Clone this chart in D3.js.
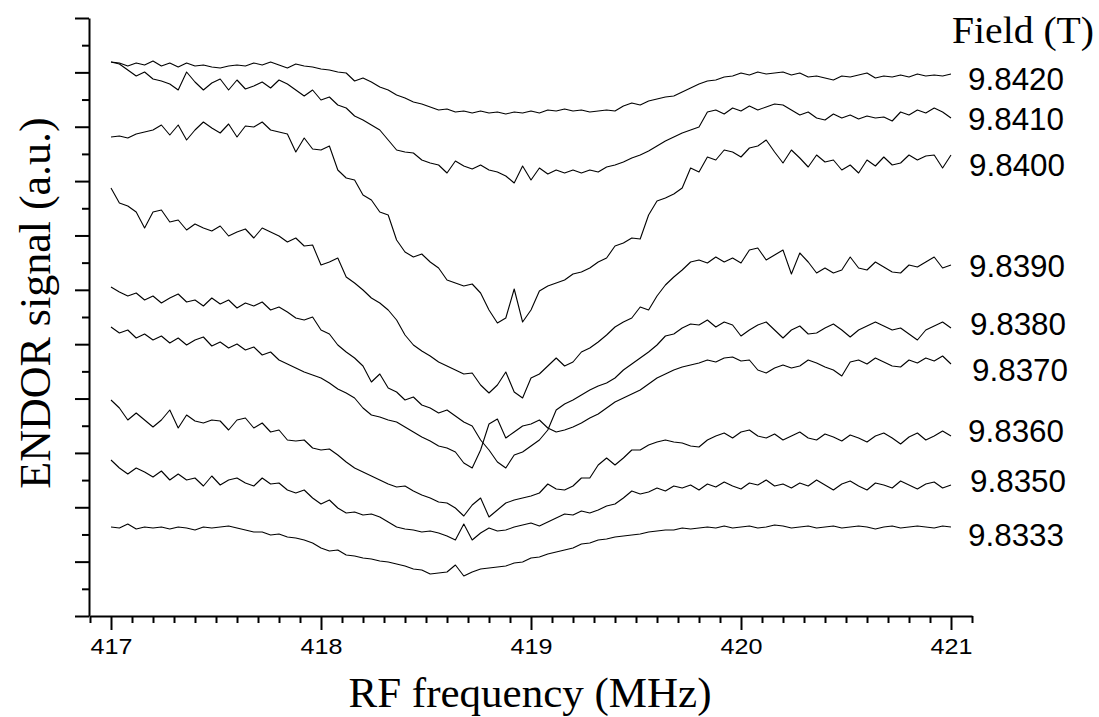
<!DOCTYPE html>
<html><head><meta charset="utf-8">
<script src="https://cdn.jsdelivr.net/npm/d3@7"></script>
<style>body{margin:0;background:#fff}svg{display:block}</style>
</head><body><svg id="c" width="1099" height="717"></svg>
<script>
// ---------- DATA ----------
const fields = ["9.8420","9.8410","9.8400","9.8390","9.8380","9.8370","9.8360","9.8350","9.8333"];
const freqStart = 417, freqStep = 0.04;          // 101 samples, 417 → 421 MHz
const baselines = [541, 498, 456, 351, 288, 254, 179, 129, 89]; // vertical offset of each trace (a.u.)

const sig_98420 = [13,12,9,12,10,14,9,12,8,12,9,10,8,7,9,10,9,12,10,13,10,
 7,11,9,8,6,5,3,2,-6,-3,-7,-12,-15,-20,-23,-27,-29,-32,-35,-34,
 -37,-36,-38,-36,-38,-37,-39,-37,-38,-36,-38,-35,-36,-34,-36,-35,-37,-36,-35,-36,
 -31,-28,-30,-26,-24,-22,-21,-17,-13,-9,-6,-5,-2,-1,2,0,3,1,2,3,
 0,2,-2,-1,-3,-5,-1,-2,0,2,-3,-1,-2,0,-2,1,-1,0,-1,1];
const sig_98410 = [56,54,48,42,46,39,37,34,28,46,36,28,35,39,28,38,29,32,36,30,38,
 34,28,22,28,18,21,13,10,2,-2,-7,-12,-22,-32,-34,-35,-42,-45,-47,-55,
 -43,-48,-51,-47,-52,-54,-58,-65,-48,-62,-50,-56,-52,-55,-52,-55,-52,-54,-49,-47,
 -44,-40,-37,-33,-28,-23,-19,-15,-12,-9,6,8,4,10,7,12,8,11,14,13,
 8,3,6,0,-2,4,0,3,-1,2,0,1,-3,6,3,8,5,10,6,0];
const sig_98400 = [23,24,22,26,28,30,35,25,35,20,30,38,32,27,36,23,34,33,38,30,28,
 26,8,22,11,10,14,-10,-18,-20,-35,-40,-52,-55,-80,-92,-97,-94,-102,-108,-120,
 -123,-126,-124,-133,-150,-163,-158,-129,-162,-150,-131,-126,-123,-120,-114,-112,-108,-102,-98,-86,
 -83,-78,-79,-55,-41,-38,-34,-28,-8,-12,3,0,10,8,3,12,14,20,8,-3,
 10,2,-7,5,-2,0,-10,-5,-13,0,-6,3,-5,-3,5,0,4,5,-8,5];
const sig_98390 = [77,62,59,53,37,53,55,43,45,35,41,37,34,39,29,33,36,27,37,33,29,
 23,27,19,20,0,3,7,-12,-18,-25,-33,-38,-45,-55,-70,-80,-86,-91,-97,-101,
 -105,-109,-108,-120,-128,-120,-107,-127,-133,-113,-109,-101,-93,-101,-97,-87,-83,-77,-70,-62,
 -57,-53,-42,-45,-31,-20,-12,-5,3,5,2,8,3,7,2,15,17,5,10,15,
 -9,12,3,-8,-3,-8,-5,8,-3,-5,3,-2,-7,-8,0,-2,3,8,-3,0];
const sig_98380 = [41,36,32,35,28,32,25,30,34,26,28,22,30,24,28,20,25,22,26,18,21,
 16,10,8,11,-2,-6,-17,-24,-30,-38,-54,-46,-60,-64,-72,-69,-77,-80,-85,-82,
 -88,-94,-98,-112,-122,-134,-140,-127,-124,-118,-112,-102,-82,-76,-72,-67,-62,-58,-55,-50,
 -42,-36,-30,-24,-17,-8,-6,0,4,3,8,1,6,3,-8,-2,3,6,-2,-10,
 -2,2,-6,-5,0,4,-2,-9,-2,2,6,2,-2,0,-6,-12,-2,2,6,0];
const sig_98370 = [35,29,32,24,28,22,26,19,24,17,22,25,16,20,14,18,12,15,7,10,2,
 -2,-6,-10,-13,-16,-21,-27,-31,-36,-46,-53,-55,-58,-60,-65,-70,-75,-79,-84,-86,
 -90,-101,-106,-88,-62,-57,-76,-70,-64,-62,-58,-66,-70,-68,-65,-61,-56,-52,-46,-40,
 -36,-32,-28,-22,-16,-12,-8,-5,-3,-1,2,0,4,5,1,2,-8,-11,-6,-3,
 -6,-4,2,-1,-5,-8,-14,0,2,-2,4,0,-4,-5,2,-1,4,1,6,-2];
const sig_98360 = [37,29,17,24,17,10,17,27,9,22,16,14,17,16,7,17,19,9,14,5,7,
 -3,-4,-3,-11,-13,-12,-18,-25,-31,-35,-39,-43,-47,-50,-49,-54,-58,-61,-65,-66,
 -71,-79,-68,-61,-80,-73,-66,-63,-61,-59,-56,-47,-52,-53,-49,-41,-41,-28,-21,-28,
 -21,-13,-13,-8,-5,-3,-5,-6,-9,-10,-3,1,4,-1,5,7,1,-1,3,-3,
 1,5,-1,-3,3,0,-4,2,-1,-5,1,4,-1,-7,0,4,-3,1,6,1];
const sig_98350 = [27,19,13,19,15,10,16,7,13,7,9,1,11,2,7,9,4,1,9,3,4,
 -3,-6,-3,-11,-17,-13,-21,-26,-25,-28,-27,-30,-35,-40,-42,-43,-45,-44,-46,-49,
 -53,-37,-53,-46,-41,-44,-43,-40,-38,-36,-39,-35,-31,-27,-28,-24,-26,-23,-19,-17,
 -11,-4,-7,-5,-1,-4,1,-1,2,-3,3,0,5,1,-2,4,2,7,1,3,
 -1,4,1,7,2,-3,3,6,1,-3,4,2,-1,6,2,-2,3,5,-1,2];
const sig_98333 = [0,-1,3,-2,0,-1,0,-2,0,-1,-3,0,-1,0,1,-1,-3,-5,-5,-8,-7,
 -10,-11,-13,-16,-21,-24,-23,-28,-29,-31,-32,-34,-35,-37,-39,-42,-43,-47,-46,-45,
 -38,-49,-45,-42,-41,-40,-39,-36,-35,-31,-30,-27,-25,-23,-21,-17,-16,-13,-12,-10,
 -9,-8,-7,-5,-4,-3,-3,-1,-2,-1,0,-1,1,-1,0,1,-1,0,2,1,
 -1,0,1,-1,0,1,-1,0,1,0,-2,0,1,-1,0,1,0,-1,1,0];
const signals = [sig_98420, sig_98410, sig_98400, sig_98390, sig_98380, sig_98370, sig_98360, sig_98350, sig_98333];

const xMajorTicks = [417, 418, 419, 420, 421];
const xTickLabels = ["417", "418", "419", "420", "421"];
const xTitle = "RF frequency (MHz)";
const yTitle = "ENDOR signal (a.u.)";
const legendTitle = "Field (T)";

// ---------- LAYOUT ----------
const labelPos = [[968,90],[968,130],[969,176],[969,277],[970,335],[972,381],[968,442],[970,492],[968,546]];

const svg = d3.select("#c");
const x = d3.scaleLinear().domain([416.9, 421.1]).range([90, 972]);
const y = d3.scaleLinear().domain([0, 598]).range([616, 18]);

// traces
const line = d3.line()
  .x((d, i) => x(freqStart + i * freqStep))
  .y(d => y(d));
signals.forEach((s, k) => {
  svg.append("path")
    .datum(s.map(v => v + baselines[k]))
    .attr("d", line)
    .attr("fill", "none")
    .attr("stroke", "#000")
    .attr("stroke-width", 1.1)
    .attr("stroke-linejoin", "round");
});

// x axis
const minorX = d3.range(0, 43).map(i => +(416.9 + i * 0.1).toFixed(1)).filter(v => !xMajorTicks.includes(v));
const gx = svg.append("g").attr("transform", "translate(0,616)");
gx.call(d3.axisBottom(x).tickValues(minorX).tickSize(7).tickSizeOuter(0).tickFormat(""));
const gx2 = svg.append("g").attr("transform", "translate(0,616)");
gx2.call(d3.axisBottom(x).tickValues(xMajorTicks).tickSize(14).tickSizeOuter(0)
  .tickFormat((d, i) => xTickLabels[i]).tickPadding(8));
gx2.select(".domain").remove();
gx2.selectAll("text").attr("font-family", "'Liberation Sans', Arial, sans-serif")
  .attr("font-size", 22.5).attr("fill", "#000")
  .attr("textLength", 42).attr("lengthAdjust", "spacingAndGlyphs");

// y axis
const yMajor = d3.range(0, 12).map(i => i * 598 / 11);
const yMinor = d3.range(0, 11).map(i => (i + 0.5) * 598 / 11);
const gy = svg.append("g").attr("transform", "translate(89,0)");
gy.call(d3.axisLeft(y).tickValues(yMinor).tickSize(7).tickSizeOuter(0).tickFormat(""));
const gy2 = svg.append("g").attr("transform", "translate(89,0)");
gy2.call(d3.axisLeft(y).tickValues(yMajor).tickSize(14).tickSizeOuter(0).tickFormat(""));
gy2.select(".domain").remove();

svg.selectAll(".domain, .tick line").attr("stroke", "#000").attr("stroke-width", 2);

// titles
svg.append("text").attr("x", 530).attr("y", 707).attr("text-anchor", "middle")
  .attr("font-family", "'Liberation Serif', 'Times New Roman', serif").attr("font-size", 43)
  .text(xTitle);
svg.append("text").attr("transform", "translate(50,303) rotate(-90)").attr("text-anchor", "middle")
  .attr("font-family", "'Liberation Serif', 'Times New Roman', serif").attr("font-size", 44)
  .text(yTitle);
svg.append("text").attr("x", 952).attr("y", 43)
  .attr("font-family", "'Liberation Serif', 'Times New Roman', serif").attr("font-size", 38)
  .attr("textLength", 142).attr("lengthAdjust", "spacingAndGlyphs")
  .text(legendTitle);

// field labels
svg.append("g").selectAll("text").data(fields).join("text")
  .attr("x", (d, i) => labelPos[i][0]).attr("y", (d, i) => labelPos[i][1])
  .attr("font-family", "'Liberation Sans', Arial, sans-serif").attr("font-size", 30.5)
  .attr("textLength", 96).attr("lengthAdjust", "spacingAndGlyphs")
  .text(d => d);
</script></body></html>
